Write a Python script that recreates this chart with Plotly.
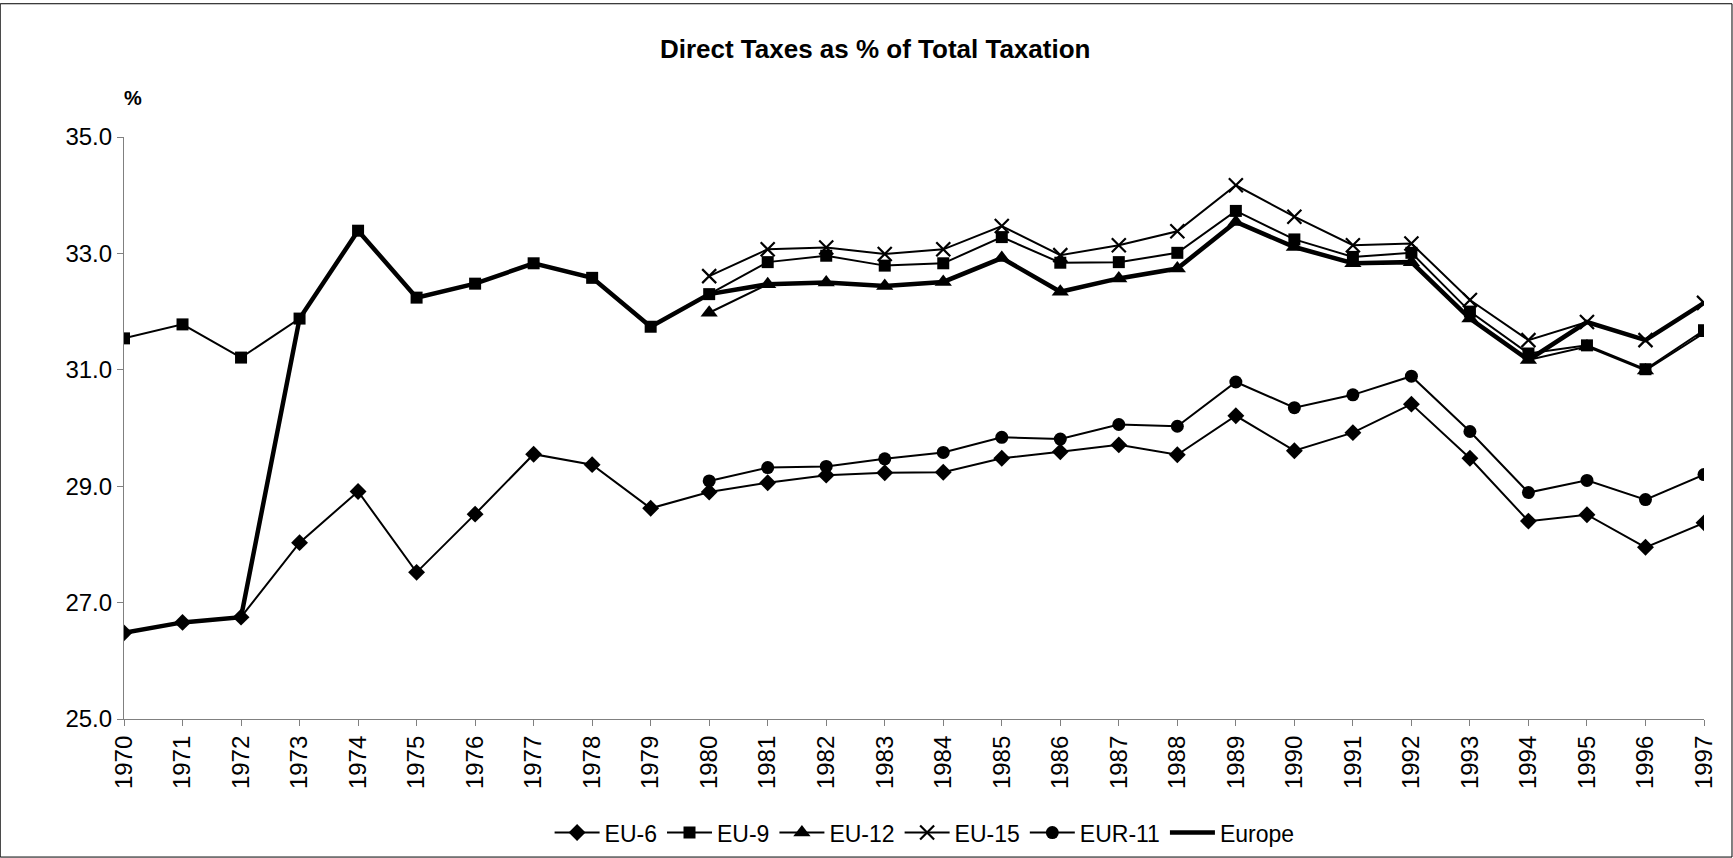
import plotly.graph_objects as go

years = list(range(1970, 1998))
years_80 = list(range(1980, 1998))

eu6 = [26.48, 26.66, 26.75, 28.03, 28.91, 27.52, 28.52, 29.55, 29.37, 28.62,
       28.90, 29.06, 29.19, 29.23, 29.24, 29.48, 29.59, 29.71, 29.54, 30.21,
       29.61, 29.92, 30.41, 29.48, 28.40, 28.51, 27.95, 28.37]
eu9 = [31.54, 31.78, 31.21, 31.88, 33.39, 32.24, 32.48, 32.83, 32.58, 31.74,
       32.30, 32.85, 32.96, 32.79, 32.83, 33.28, 32.84, 32.85, 33.01, 33.73,
       33.24, 32.94, 33.01, 32.00, 31.28, 31.42, 31.01, 31.68]
eu12 = [31.98, 32.47, 32.50, 32.44, 32.51, 32.92, 32.34, 32.57, 32.74, 33.54,
        33.11, 32.83, 32.85, 31.88, 31.17, 31.40, 30.99, 31.63]
eu15 = [32.61, 33.07, 33.10, 32.99, 33.07, 33.47, 32.97, 33.14, 33.38, 34.17,
        33.63, 33.14, 33.17, 32.20, 31.51, 31.82, 31.51, 32.15]
eur11 = [29.09, 29.32, 29.34, 29.47, 29.58, 29.84, 29.81, 30.06, 30.03, 30.79,
         30.35, 30.57, 30.89, 29.94, 28.89, 29.10, 28.77, 29.20]
europe = [26.48, 26.66, 26.75, 31.88, 33.39, 32.24, 32.48, 32.83, 32.58, 31.74,
          32.30, 32.47, 32.50, 32.44, 32.51, 32.92, 32.34, 32.57, 32.74, 33.54,
          33.11, 32.83, 32.85, 31.88, 31.17, 31.82, 31.51, 32.15]

y_ticks = [25.0, 27.0, 29.0, 31.0, 33.0, 35.0]

FONT = "Liberation Sans, Arial, sans-serif"
W, H = 1733, 858
L, R, T, B = 124.3, 1704.5, 136.7, 719.3
pw, ph = R - L, B - T

fig = go.Figure()

def add(name, x, y, symbol, size, lw=2, mline=0):
    fig.add_trace(go.Scatter(
        x=x, y=y, name=name, mode="lines+markers",
        line=dict(color="black", width=lw),
        marker=dict(symbol=symbol, size=size, color="black",
                    line=dict(color="black", width=mline)),
    ))

add("EU-6", years, eu6, "diamond", 13)
add("EU-9", years, eu9, "square", 12)
add("EU-12", years_80, eu12, "triangle-up", 15)
add("EU-15", years_80, eu15, "x-thin", 14, mline=2.2)
add("EUR-11", years_80, eur11, "circle", 13)
fig.add_trace(go.Scatter(x=years, y=europe, name="Europe", mode="lines",
                         line=dict(color="black", width=4.5)))

fig.update_layout(
    width=W, height=H,
    margin=dict(l=L, r=W - R, t=T, b=H - B, autoexpand=False),
    paper_bgcolor="white", plot_bgcolor="white",
    font=dict(family=FONT, size=23, color="black"),
    title=dict(text="<b>Direct Taxes as % of Total Taxation</b>",
               x=0.505, xref="container", xanchor="center",
               y=1 - 48.6 / H, yref="container", yanchor="middle",
               font=dict(size=26)),
    showlegend=True,
    legend=dict(orientation="h", x=(925 - L) / pw, xanchor="center",
                y=(B - 833) / ph, yanchor="middle",
                font=dict(size=23), itemwidth=45,
                bgcolor="rgba(0,0,0,0)", tracegroupgap=0),
    xaxis=dict(range=[1970, 1997], tickmode="array", tickvals=years,
               ticktext=[str(y) for y in years], tickangle=-90,
               showgrid=False, zeroline=False, showline=True,
               linecolor="#808080", linewidth=1.2,
               ticks="outside", ticklen=6, tickcolor="#808080",
               tickfont=dict(size=24)),
    yaxis=dict(range=[25, 35], tickmode="array", tickvals=y_ticks,
               ticktext=[f"{v:.1f}" for v in y_ticks],
               showgrid=False, zeroline=False, showline=True,
               linecolor="#808080", linewidth=1.2,
               ticks="outside", ticklen=6, tickcolor="#808080",
               tickfont=dict(size=24)),
    annotations=[dict(text="<b>%</b>", xref="paper", yref="paper",
                      x=(133 - L) / pw, y=1 + 38.7 / ph,
                      xanchor="center", yanchor="middle",
                      showarrow=False, font=dict(size=20))],
    shapes=[dict(type="rect", xref="paper", yref="paper",
                 x0=(0.5 - L) / pw, x1=(W - 0.5 - L) / pw,
                 y0=(B - (H - 0.5)) / ph, y1=(B - 3.3) / ph,
                 line=dict(color="black", width=1), layer="below")],
)

fig.write_html("out.html",
               config={"displayModeBar": False},
               post_script="document.body.style.margin='0';"
                           "document.body.style.overflow='hidden';")
